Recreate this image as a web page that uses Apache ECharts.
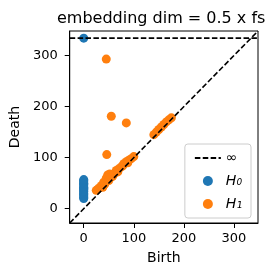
<!DOCTYPE html>
<html><head><meta charset="utf-8">
<script src="https://cdn.jsdelivr.net/npm/echarts@6/dist/echarts.min.js"></script>
<style>html,body{margin:0;padding:0;background:#fff}#c{width:280px;height:276px}</style>
</head><body><div id="c"></div>
<script>
var titleText = 'embedding dim = 0.5 x fs';
var axisMin = -28, axisMax = 348;
var infValue = 334;
var tickValues = [0, 100, 200, 300];
var h0Births = [0,0,0,0,0,0,0,0,0,0,0,0,0,0,0,0,0];
var h0Deaths = [20,22,25,28,30,33,35,38,40,42,45,48,50,53,55,57,334];
var h1Births = [45,55,85,46,25,30,35,38,40,42,45,48,50,52,55,58,60,65,68,70,75,78,80,85,88,90,95,100,140,145,150,155,160,165,170,175];
var h1Deaths = [293,181,168,106,36,40,45,42,52,48,60,66,55,68,62,64,68,75,72,78,82,84,88,92,90,95,98,102,145,150,155,160,165,170,174,178];
var diagX = [axisMin, axisMax], diagY = [axisMin, axisMax];
var infX = [axisMin, axisMax], infY = [infValue, infValue];

function zip(a, b){ return a.map(function(v,i){ return [v, b[i]]; }); }
var font = 'DejaVu Sans';
var chart = echarts.init(document.getElementById('c'), null, {renderer:'canvas'});
chart.setOption({
  animation:false,
  title:{text:titleText, left:52, top:6, textStyle:{fontFamily:font, fontSize:16, fontWeight:'normal', color:'#000'}},
  grid:{left:66, right:22, top:31, bottom:53, show:true, borderColor:'#000', borderWidth:1, backgroundColor:'transparent'},
  legend:{
    data:[{name:'∞', itemStyle:{opacity:0}}, 'H₀', 'H₁'], orient:'vertical', right:29, bottom:58,
    backgroundColor:'rgba(255,255,255,0.8)', borderColor:'#ccc', borderWidth:1, borderRadius:3,
    padding:[7,9,7,9], itemGap:9, itemWidth:26, itemHeight:10,
    textStyle:{fontFamily:font, fontSize:14, color:'#000', fontStyle:'italic'}
  },
  xAxis:{type:'value', min:axisMin, max:axisMax, name:'Birth', nameLocation:'middle', nameGap:28,
    nameTextStyle:{fontFamily:font, fontSize:14, color:'#000'},
    axisLine:{show:true, onZero:false, lineStyle:{color:'#000', width:1}}, splitLine:{show:false},
    axisTick:{show:true, inside:false, length:5, lineStyle:{color:'#000'}, customValues:tickValues},
    axisLabel:{fontFamily:font, fontSize:13, color:'#000', margin:9, customValues:tickValues}},
  yAxis:{type:'value', min:axisMin, max:axisMax, name:'Death', nameLocation:'middle', nameGap:44,
    nameTextStyle:{fontFamily:font, fontSize:14, color:'#000'},
    axisLine:{show:true, onZero:false, lineStyle:{color:'#000', width:1}}, splitLine:{show:false},
    axisTick:{show:true, inside:false, length:5, lineStyle:{color:'#000'}, customValues:tickValues},
    axisLabel:{fontFamily:font, fontSize:13, color:'#000', margin:12, customValues:tickValues}},
  series:[
    {name:'diag', type:'line', data:zip(diagX, diagY), showSymbol:false, symbol:'none', z:5,
      lineStyle:{color:'#000', width:1.6, type:[5.5,2.4]}},
    {name:'∞', type:'line', data:zip(infX, infY), showSymbol:false, symbol:'none', z:5,
      lineStyle:{color:'#000', width:1.6, type:[5.5,2.4]}, itemStyle:{color:'#000'}},
    {name:'H₀', type:'scatter', data:zip(h0Births, h0Deaths), symbolSize:9, z:3,
      itemStyle:{color:'#1f77b4', opacity:1}},
    {name:'H₁', type:'scatter', data:zip(h1Births, h1Deaths), symbolSize:9, z:3,
      itemStyle:{color:'#ff7f0e', opacity:1}}
  ]
});
</script></body></html>
